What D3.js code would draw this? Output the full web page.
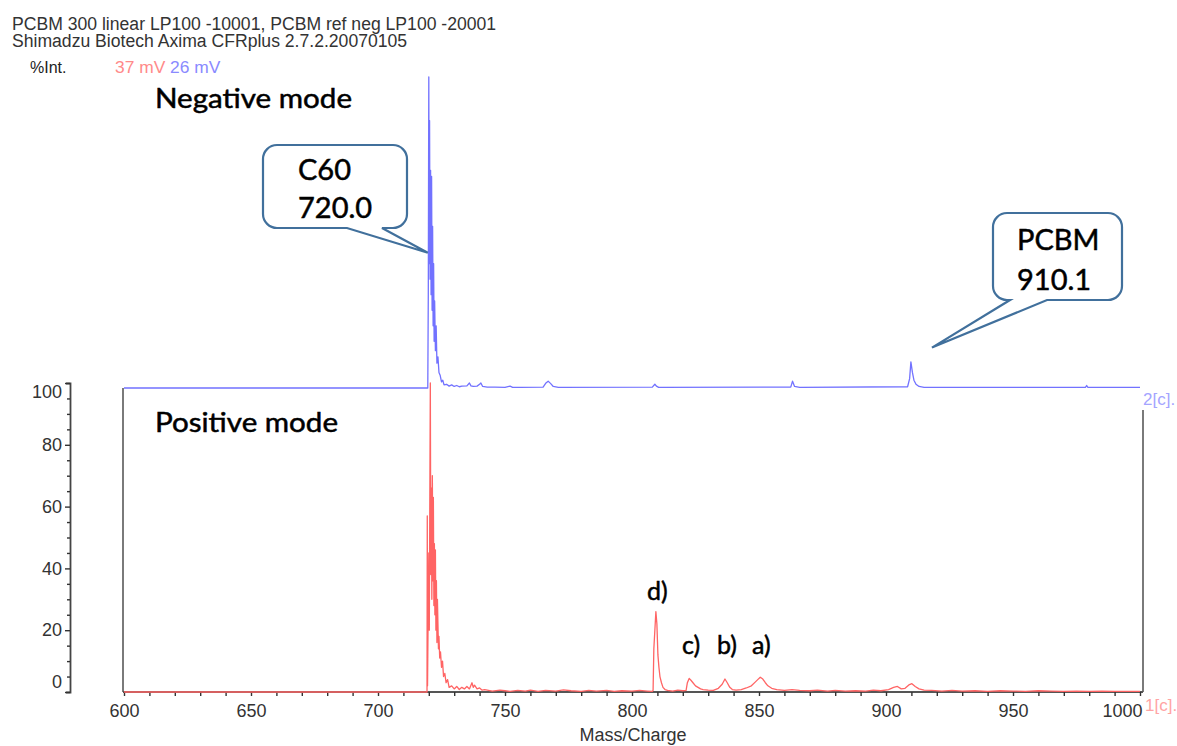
<!DOCTYPE html>
<html><head><meta charset="utf-8">
<script src="https://cdn.jsdelivr.net/npm/d3@7/dist/d3.min.js"></script>
<style>body{margin:0;background:#fff}svg{display:block}</style>
</head><body><svg id="c" width="1177" height="746"></svg>
<script>
// ---------- data ----------
const headerLine1 = "PCBM 300 linear LP100 -10001, PCBM ref neg LP100 -20001";
const headerLine2 = "Shimadzu Biotech Axima CFRplus 2.7.2.20070105";
const yAxisTitle = "%Int.";
const redScaleLabel = "37 mV";
const blueScaleLabel = "26 mV";
const xAxisTitle = "Mass/Charge";
const xTickValues = d3.range(600, 1001, 10);
const xTickLabels = [600, 650, 700, 750, 800, 850, 900, 950, 1000];
const yTickValues = d3.range(0, 101, 5);
const yTickLabels = [0, 20, 40, 60, 80, 100];
const negLabel = "Negative mode";
const posLabel = "Positive mode";
const negTrace = "2[c].";
const posTrace = "1[c].";

// negative mode spectrum (m/z, %Int)
const negMz  = [600,719.6,719.8,720.0,720.15,720.3,720.5,720.7,720.9,721.1,721.3,721.5,721.7,721.9,722.1,722.3,722.6,722.9,723.2,723.6,724,724.5,725,725.5,726,727,728,729,730,731,732,733,735,736,736.6,737.5,739,740,740.5,741.2,743,746,750,752,753,756,765,766,767,768,769,771,808,809,809.6,810.5,862.5,863.2,864,866,908.5,909.3,909.8,910.4,911,911.8,913,915,978.5,979,979.5,1000];
const negInt = [0,0,30,100,40,86,35,70,30,68,25,52,20,40,15,28,12,20,8,10,5,4,2,2.5,1,1.2,0.6,1,0.5,0.8,0.4,0.6,0.7,1.6,0.7,0.5,0.6,1.2,1.6,0.5,0.3,0.3,0.2,0.6,0.2,0.2,0.3,1.5,2.2,1.4,0.5,0.2,0.3,1.2,0.6,0.2,0.3,2.2,0.5,0.2,0.4,3,8.4,5,2.5,1.2,0.5,0.2,0.2,0.8,0.2,0.2];

// positive mode spectrum (m/z, %Int)
const posMz  = [600,719.3,719.4,719.5,719.8,720.0,720.2,720.4,720.6,720.8,721.0,721.2,721.4,721.6,721.8,722.0,722.2,722.4,722.6,722.8,723.0,723.2,723.4,723.6,723.8,724.0,724.3,724.6,725.0,725.4,725.8,726.3,726.8,727.4,728,729,730,731,732,733,734,735,736,737,737.5,738,739,740,741,742,745,748,750,752,755,758,760,763,766,770,773,776,780,783,786,790,793,796,800,803,806,808,808.3,808.6,809.0,809.4,809.8,810.2,810.6,811,811.6,812.2,813,814,816,818,820,821.3,821.8,822.5,823.2,824,825,826,827,828,830,832,834,835.5,836.6,837.5,838.5,839.5,841,843,845,847,848.5,849.5,850.5,851.5,852.5,853.5,855,857,860,863,866,870,873,877,880,884,888,892,895,898,901,903,904.5,906,907.5,909,910.2,911.5,913,915,918,922,926,930,935,940,945,950,955,960,965,970,975,980,985,990,995,1000];
const posInt = [0,0,57,2,30,45,20,62,100,38,66,30,70,36,63,28,48,25,46,20,36,16,30,22,14,18,11,13,8,10,5,6,3,4,1.5,2,1,1.8,0.8,1.5,1,1.8,1,3,1.5,2.2,1,1.3,0.6,0.8,0.3,0.6,0.4,0.2,0.5,0.3,0.6,0.2,0.5,0.3,0.7,0.4,0.2,0.5,0.3,0.5,0.2,0.4,0.3,0.5,0.3,0.2,0.5,14,20,26,22,12,8,5,3,1.5,0.8,0.5,0.3,0.6,0.4,0.5,3,4.4,3.8,3,2,1.5,1,0.8,0.6,0.5,1.2,2.5,4.2,3,1.5,0.8,0.6,0.8,1.3,2,3.2,4,4.8,4.2,3,2,1.2,0.8,0.5,0.8,0.5,0.4,0.6,0.3,0.5,0.3,0.4,0.3,0.6,0.4,0.8,1.5,1.8,1,1.2,2.3,2.7,1.8,1,0.6,0.5,0.3,0.5,0.3,0.4,0.2,0.4,0.3,0.2,0.4,0.3,0.2,0.3,0.2,0.3,0.2,0.2,0.2];

const callouts = [
  {lines: ["C60", "720.0"], tipMz: 719.6, tipInt: 43.5},
  {lines: ["PCBM", "910.1"], tipMz: 918.1, tipInt: 13}
];
const peakLabels = ["d)", "c)", "b)", "a)"];

// ---------- layout ----------
const svg = d3.select("#c");
svg.append("rect").attr("width", 1177).attr("height", 746).attr("fill", "#fff");
const x = d3.scaleLinear([600, 1000], [124, 1140]);
const yPos = d3.scaleLinear([0, 100], [692, 383]);
const yNeg = d3.scaleLinear([0, 100], [388, 77]);
const sans = "'Liberation Sans', Arial, sans-serif";
const callFont = "Lato, 'Open Sans', sans-serif";

// header
const hdr = svg.append("g").attr("font-family", sans).attr("fill", "#333");
hdr.append("text").attr("x", 12).attr("y", 30).attr("font-size", 17.6).text(headerLine1);
hdr.append("text").attr("x", 12).attr("y", 46.5).attr("font-size", 17.6).text(headerLine2);
hdr.append("text").attr("x", 30).attr("y", 73).attr("font-size", 16).attr("fill", "#222").text(yAxisTitle);
hdr.append("text").attr("x", 115).attr("y", 73).attr("font-size", 17.4).attr("fill", "#ff8a8a").text(redScaleLabel);
hdr.append("text").attr("x", 170).attr("y", 73).attr("font-size", 17.4).attr("fill", "#8a8aff").text(blueScaleLabel);

// frame
const frame = svg.append("g").attr("stroke", "#7a7a7a").attr("stroke-width", 2).attr("fill", "none");
frame.append("line").attr("x1", 123).attr("x2", 123).attr("y1", 388).attr("y2", 692);
frame.append("line").attr("x1", 1143).attr("x2", 1143).attr("y1", 410).attr("y2", 692);
frame.append("line").attr("x1", 123).attr("x2", 1143).attr("y1", 692).attr("y2", 692).attr("stroke", "#555");

// x axis
const xAxis = svg.append("g").attr("transform", "translate(0,692)")
  .call(d3.axisBottom(x).tickValues(xTickValues).tickSize(4).tickPadding(8)
    .tickFormat(d => xTickLabels.includes(d) ? d : ""));
xAxis.select(".domain").remove();
xAxis.selectAll(".tick line").attr("stroke", "#333").attr("stroke-width", 1.4);
xAxis.selectAll(".tick text").attr("font-family", sans).attr("font-size", 18).attr("fill", "#333");
xAxis.selectAll(".tick text").filter(d => d === 1000).attr("text-anchor", "end").attr("dx", 2);
svg.append("text").attr("x", 633).attr("y", 741).attr("text-anchor", "middle")
  .attr("font-family", sans).attr("font-size", 18).attr("fill", "#333").text(xAxisTitle);

// y axis
const yAxis = svg.append("g").attr("transform", "translate(70,0)")
  .call(d3.axisLeft(yPos).tickValues(yTickValues).tickSize(5).tickSizeOuter(4).tickPadding(3)
    .tickFormat(d => yTickLabels.includes(d) ? d : ""));
yAxis.select(".domain").attr("stroke", "#444").attr("stroke-width", 1.8);
yAxis.selectAll(".tick line").attr("stroke", "#333").attr("stroke-width", 1.4)
  .attr("x2", d => yTickLabels.includes(d) ? -5 : -3);
yAxis.selectAll(".tick text").attr("font-family", sans).attr("font-size", 18).attr("fill", "#333");
yAxis.selectAll(".tick text").filter(d => d === 100).attr("transform", "translate(0,9)");
yAxis.selectAll(".tick text").filter(d => d === 0).attr("transform", "translate(0,-10)");

// spectra
const line = (ys) => d3.line().x(d => x(d[0])).y(d => ys(d[1]));
const posData = posMz.map((m, i) => [m, posInt[i]]);
const negData = negMz.map((m, i) => [m, negInt[i]]);
svg.append("path").datum(posData).attr("d", line(yPos)).attr("fill", "none")
  .attr("stroke", "#ff6464").attr("stroke-width", 1.3).attr("stroke-linejoin", "round");
svg.append("path").datum(negData).attr("d", line(yNeg)).attr("fill", "none")
  .attr("stroke", "#7272ff").attr("stroke-width", 1.3).attr("stroke-linejoin", "round");

svg.append("text").attr("x", 1143).attr("y", 405).attr("font-family", sans).attr("font-size", 17)
  .attr("fill", "#a4a4ff").text(negTrace);
svg.append("text").attr("x", 1145).attr("y", 711).attr("font-family", sans).attr("font-size", 17)
  .attr("fill", "#ffa4a4").text(posTrace);

// mode labels
const modeStyle = (s) => s.attr("font-family", callFont).attr("font-size", 27).attr("fill", "#000")
  .attr("stroke", "#000").attr("stroke-width", 0.5).attr("lengthAdjust", "spacingAndGlyphs");
svg.append("text").attr("x", 155).attr("y", 108).attr("textLength", 197).call(modeStyle).text(negLabel);
svg.append("text").attr("x", 155).attr("y", 432).attr("textLength", 183).call(modeStyle).text(posLabel);

// callouts
function calloutPath(x0, y0, x1, y1, r, b0, b1, tx, ty) {
  return `M${x0 + r},${y0}H${x1 - r}A${r},${r} 0 0 1 ${x1},${y0 + r}V${y1 - r}A${r},${r} 0 0 1 ${x1 - r},${y1}` +
    `H${b1}L${tx},${ty}L${b0},${y1}H${x0 + r}A${r},${r} 0 0 1 ${x0},${y1 - r}V${y0 + r}A${r},${r} 0 0 1 ${x0 + r},${y0}Z`;
}
const boxes = [
  {x0: 263, y0: 145, x1: 407, y1: 228, b0: 347, b1: 382, tx: 298, ty: [180, 218]},
  {x0: 993, y0: 213, x1: 1122, y1: 300, b0: 1010, b1: 1047, tx: 1017, ty: [250, 290]}
];
callouts.forEach((c, i) => {
  const b = boxes[i];
  svg.append("path").attr("d", calloutPath(b.x0, b.y0, b.x1, b.y1, 14, b.b0, b.b1, x(c.tipMz), yNeg(c.tipInt)))
    .attr("fill", "#fff").attr("stroke", "#41709c").attr("stroke-width", 2.2);
  c.lines.forEach((t, j) => {
    svg.append("text").attr("x", b.tx).attr("y", b.ty[j]).attr("font-family", callFont)
      .attr("font-size", 29).attr("fill", "#000").attr("stroke", "#000").attr("stroke-width", 0.5).text(t);
  });
});

// peak labels
const plPos = [[647, 600], [682, 654], [717, 654], [752, 654]];
peakLabels.forEach((t, i) => {
  svg.append("text").attr("x", plPos[i][0]).attr("y", plPos[i][1]).attr("font-family", callFont)
    .attr("font-size", 25).attr("fill", "#000").attr("stroke", "#000").attr("stroke-width", 0.5).text(t);
});
</script></body></html>
